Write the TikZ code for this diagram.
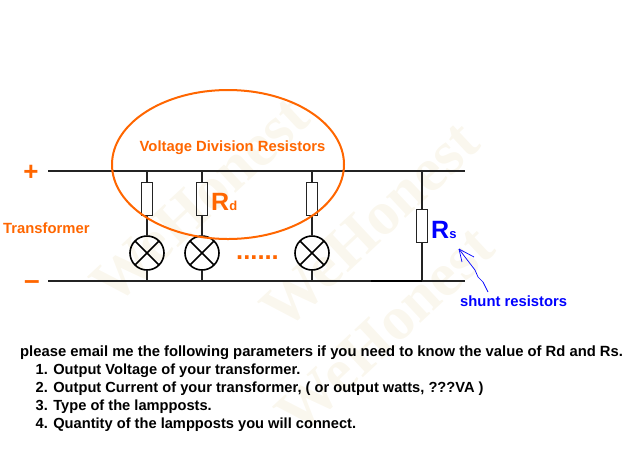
\documentclass[tikz,border=0pt]{standalone}
\usetikzlibrary{shapes.geometric}
\usepackage{fontspec}
\setmainfont{Liberation Sans}
\newfontfamily\markfont{Liberation Serif}
\definecolor{wireclr}{RGB}{35,35,35}
\definecolor{orangeclr}{RGB}{255,102,0}
\definecolor{blueclr}{RGB}{0,0,255}
\definecolor{markclr}{RGB}{250,247,238}
\tikzset{
    wire/.style={draw=wireclr,line width=1.6pt},
    resbox/.style={draw=wireclr,line width=1.6pt,fill=none,minimum width=11pt,minimum height=33pt,inner sep=0pt},
    lamp/.style={circle,draw=black,line width=1.6pt,minimum size=34pt,inner sep=0pt,
        path picture={
            \draw[line width=1.6pt] (path picture bounding box.north west)--(path picture bounding box.south east);
            \draw[line width=1.6pt] (path picture bounding box.north east)--(path picture bounding box.south west);
        }},
    note/.style={text=orangeclr,font=\bfseries\fontsize{14.8}{16}\selectfont,inner sep=0pt},
    para/.style={anchor=base west,text=black,inner sep=0pt,font=\bfseries\fontsize{14.65}{16}\selectfont},
    markword/.style={text=markclr,rotate=43,font=\markfont\bfseries\fontsize{62}{62}\selectfont,inner sep=0pt}
}
\begin{document}
\begin{tikzpicture}[x=1pt,y=-1pt]
\useasboundingbox (0,0) rectangle (640,451);
% watermark
\foreach \x/\y/\name in {200/200/ma,370/225/mb,385/330/mc}
{
    \node (\name) at (\x,\y)[markword]{WeHonest};
}
% rails
\coordinate (topl) at (48,171);
\coordinate (topr) at (465,171);
\coordinate (botl) at (48,281);
\coordinate (botr) at (465,281);
\coordinate (botm) at (371,281);
\draw[wire] (topl)--(topr);
\draw[wire] (botl)--(botr);
% lamp branches
\foreach \x/\name in {147/a,202/b,312/c}
{
    \coordinate (top\name) at (\x,171);
    \coordinate (bot\name) at (\x,281);
    \node (res\name) at (\x,199)[resbox]{};
    \node (lamp\name) at (\x,253)[lamp]{};
    \draw[wire] (top\name)--(res\name);
    \draw[wire] (res\name)--(lamp\name);
    \draw[wire] (lamp\name)--(bot\name);
}
% shunt branch
\coordinate (tops) at (422,171);
\coordinate (bots) at (422,281);
\node (ress) at (422,226)[resbox]{};
\draw[wire] (tops)--(ress);
\draw[wire] (ress)--(bots);
\draw[draw=black,line width=1.8pt] (botm)--(bots);
% circled part
\node (ring) at (228,164.5)[ellipse,draw=orangeclr,line width=2pt,minimum width=232pt,minimum height=149pt,inner sep=0pt]{};
\node (ringtext) at (232.5,147.5)[note]{Voltage Division Resistors};
\node (plus) at (31,173)[note,font=\bfseries\fontsize{26}{26}\selectfont]{+};
\node (minus) at (32,285)[note,font=\bfseries\fontsize{28}{28}\selectfont]{--};
\node (trans) at (3,228)[note,anchor=west]{Transformer};
\node (dots) at (257.5,259)[note,anchor=base,font=\bfseries\fontsize{25.5}{26}\selectfont]{......};
\node (rd) at (211,210)[anchor=base west,inner sep=0pt,text=orangeclr,font=\bfseries\fontsize{25}{25}\selectfont]{R\fontsize{13}{13}\selectfont d};
\node (rs) at (431,238)[anchor=base west,inner sep=0pt,text=blueclr,font=\bfseries\fontsize{25}{25}\selectfont]{R\fontsize{13}{13}\selectfont s};
\node (shunt) at (460,306)[anchor=base west,inner sep=0pt,text=blueclr,font=\bfseries\fontsize{14.8}{16}\selectfont]{shunt resistors};
% hand drawn pointer
\coordinate (tip) at (459,249);
\draw[blueclr,line width=.7pt] (488,292)--(483,282)--(478,277)--(475,270)--(465,257)--(tip);
\draw[blueclr,line width=.7pt] (tip)--(474,257);
\draw[blueclr,line width=.7pt] (tip)--(462,262);
% request text
\node (la) at (20,356)[para,font=\bfseries\fontsize{14.8}{16}\selectfont]{please email me the following parameters if you need to know the value of Rd and Rs.};
\foreach \y/\name/\ytext in {374/lb/1. Output Voltage of your transformer.,
    392/lc/{2. Output Current of your transformer, ( or output watts, ???VA )},
    410/ld/3. Type of the lampposts.,
    428/le/4. Quantity of the lampposts you will connect.}
{
    \node (\name) at (35.5,\y)[para]{\ytext};
}
\end{tikzpicture}
\end{document}
